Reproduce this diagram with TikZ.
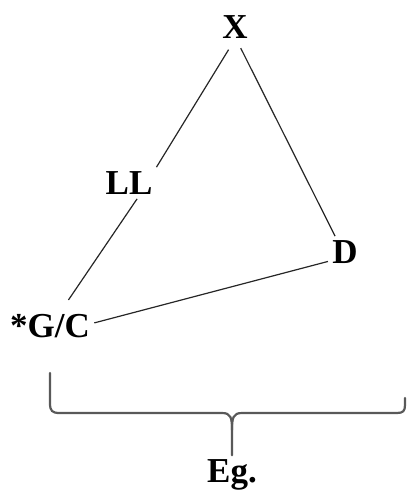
\documentclass[tikz,border=0pt]{standalone}
\usepackage{fontspec}
\setmainfont{Liberation Serif}
\usepackage{tikz}
\tikzset{
  term/.style={font=\fontsize{17.5}{20}\selectfont\bfseries, inner sep=2pt},
  ln/.style={line width=0.6pt, black!85},
  brc/.style={line width=1.1pt, black!65, line cap=round},
}

\begin{document}
\begin{tikzpicture}[x=0.5pt,y=-0.5pt]
    \useasboundingbox (0,0) rectangle (408,493);
    \node[term] (x)  at (235,27)  {X};
    \node[term] (ll) at (129,183) {LL};
    \node[term] (d)  at (345,252) {D};
    \node[term] (gc) at (50,326)  {*G/C};
    \node[term] (eg) at (232,475) {Eg.};

    \draw[ln, shorten <=4pt] (x.262) -- (ll.30);
    \draw[ln, shorten <=3pt] (x.281) -- (d.122);
    \draw[ln, shorten >=6pt] (ll.297) -- (gc.54);
    \draw[ln] (gc.4) -- (d.209);

    % brace under the triangle
    \draw[brc] (50,373) -- (50,403) .. controls (50,411) and (52,413) .. (60,413)
      -- (222,413) .. controls (231,413) and (232,418) .. (232,430) -- (eg.north);
    \draw[brc] (232,430) .. controls (232,418) and (233,413) .. (242,413)
      -- (397,413) .. controls (403,413) and (405,411) .. (405,405) -- (405,398);
  \end{tikzpicture}
\end{document}
